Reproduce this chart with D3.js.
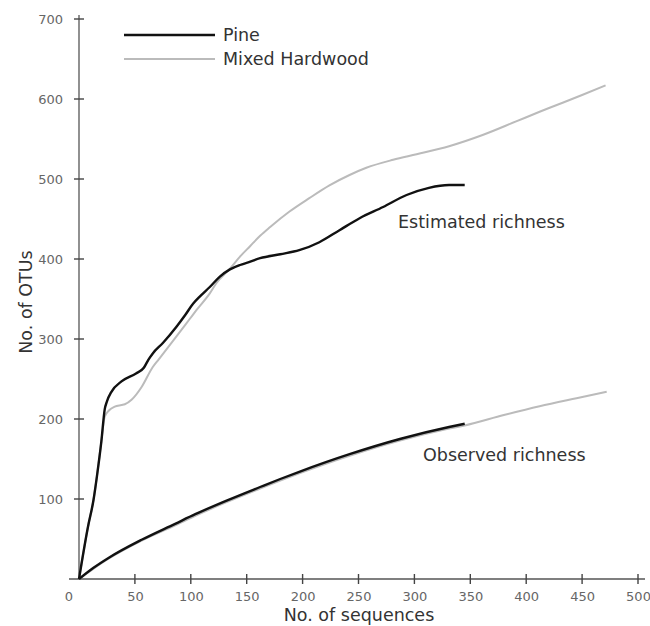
<!DOCTYPE html>
<html>
<head>
<meta charset="utf-8">
<script src="https://cdn.jsdelivr.net/npm/d3@7"></script>
<style>
  body { margin: 0; background: #fff; }
  svg { display: block; font-family: "DejaVu Sans", Verdana, sans-serif; }
  .axis text { fill: #666; font-size: 13px; }
  .label { fill: #333; font-size: 17.5px; }
</style>
</head>
<body>
<div id="chart"></div>
<script>
// rarefaction curves: [sequences, OTUs]
var pineEstimated = [
  [0, 0], [8, 65], [13, 99], [16, 128], [20, 172], [23, 212], [25, 222], [29, 234],
  [38, 247], [51, 257], [58, 264], [62, 274], [66, 282], [75, 295], [87, 315],
  [95, 330], [102, 344], [108, 353], [117, 365], [126, 378], [135, 387],
  [144, 392.5], [152, 396], [162, 401], [180, 406], [197, 411], [215, 421],
  [233, 436], [251, 451], [272, 465], [293, 480], [313, 489], [331, 492.5], [345, 492.5]
];
var mixedEstimated = [
  [0, 0], [8, 65], [13, 99], [16, 128], [20, 172], [23, 203], [27, 211], [32, 215.5],
  [38, 217.5], [41, 218.5], [47, 224], [56, 240], [66, 265], [71, 274], [87, 303],
  [99, 325], [105, 336], [117, 357], [123, 370], [135, 388], [144, 403], [153, 416],
  [162, 429], [171, 440], [188, 459], [206, 476], [224, 492], [242, 505], [257, 514],
  [281, 524], [302, 531], [331, 541], [361, 555], [391, 572], [412, 584],
  [421, 589], [450, 605], [471, 617]
];
var pineObserved = [
  [0, 0], [13, 14], [26, 26], [56, 49], [86, 69], [104, 81], [132, 98], [162, 115],
  [180, 125], [197, 134], [242, 156], [287, 175], [331, 190], [345, 194]
];
var mixedObserved = [
  [0, 0], [13, 13], [26, 25], [56, 48], [86, 67], [104, 79], [132, 96], [162, 113],
  [180, 123], [197, 132], [242, 154], [287, 173], [331, 188], [345, 192],
  [380, 205], [412, 216], [445, 226], [472, 234]
];
var xTicks = [0, 50, 100, 150, 200, 250, 300, 350, 400, 450, 500];
var yTicks = [100, 200, 300, 400, 500, 600, 700];
var seriesNames = ["Pine", "Mixed Hardwood"];
var seriesColors = ["#111", "#bbb"];

var width = 650, height = 626;

var svg = d3.select("#chart").append("svg")
  .attr("width", width)
  .attr("height", height);

var x = d3.scaleLinear().domain([0, 500]).range([79, 638]);
var y = d3.scaleLinear().domain([0, 700]).range([579, 19]);

// axis lines, a bit past the ranges like the original
svg.append("line")
  .attr("x1", x(0) - 10).attr("x2", x(500) + 7)
  .attr("y1", y(0)).attr("y2", y(0))
  .attr("stroke", "#555").attr("stroke-width", 1.3);
svg.append("line")
  .attr("x1", x(0)).attr("x2", x(0))
  .attr("y1", y(0)).attr("y2", y(700) - 4)
  .attr("stroke", "#555").attr("stroke-width", 1.3);

// labels from d3 axes, tick marks drawn across the axis below
var gx = svg.append("g")
  .attr("class", "axis")
  .attr("transform", "translate(0," + y(0) + ")")
  .call(d3.axisBottom(x).tickValues(xTicks).tickSize(5).tickPadding(8));
gx.select(".domain").remove();
gx.selectAll(".tick line").remove();
gx.selectAll(".tick")
  .filter(function(d) { return d === 0; })
  .select("text").attr("x", -10.5);

var gy = svg.append("g")
  .attr("class", "axis")
  .attr("transform", "translate(" + x(0) + ",0)")
  .call(d3.axisLeft(y).tickValues(yTicks).tickSize(5).tickPadding(11));
gy.select(".domain").remove();
gy.selectAll(".tick line").remove();

svg.selectAll(".axis").attr("font-family", null).attr("font-size", null);

svg.append("g").selectAll("line")
  .data(xTicks.filter(function(d) { return d > 0; }))
  .join("line")
    .attr("x1", function(d) { return x(d); })
    .attr("x2", function(d) { return x(d); })
    .attr("y1", y(0) - 5).attr("y2", y(0) + 5)
    .attr("stroke", "#444").attr("stroke-width", 1.4);
svg.append("g").selectAll("line")
  .data(yTicks)
  .join("line")
    .attr("x1", x(0) - 5).attr("x2", x(0) + 5)
    .attr("y1", function(d) { return y(d); })
    .attr("y2", function(d) { return y(d); })
    .attr("stroke", "#444").attr("stroke-width", 1.4);

var line = d3.line()
  .x(function(d) { return x(d[0]); })
  .y(function(d) { return y(d[1]); })
  .curve(d3.curveMonotoneX);

// grey first so black sits on top
[[mixedEstimated, 1], [mixedObserved, 1], [pineEstimated, 0], [pineObserved, 0]]
  .forEach(function(s) {
    svg.append("path")
      .datum(s[0])
      .attr("fill", "none")
      .attr("stroke", seriesColors[s[1]])
      .attr("stroke-width", s[1] === 0 ? 2.4 : 2)
      .attr("stroke-linejoin", "round")
      .attr("d", line);
  });

// legend
var legend = svg.append("g");
seriesNames.forEach(function(name, i) {
  legend.append("line")
    .attr("x1", 124).attr("x2", 215)
    .attr("y1", 35 + i * 24).attr("y2", 35 + i * 24)
    .attr("stroke", seriesColors[i])
    .attr("stroke-width", i === 0 ? 2.6 : 2.2);
  legend.append("text")
    .attr("class", "label")
    .attr("x", 223)
    .attr("y", 35 + i * 24)
    .attr("dy", "0.35em")
    .text(name);
});

svg.append("text").attr("class", "label")
  .attr("x", 398).attr("y", 228)
  .text("Estimated richness");
svg.append("text").attr("class", "label")
  .attr("x", 423).attr("y", 461)
  .text("Observed richness");

svg.append("text").attr("class", "label")
  .attr("x", 359).attr("y", 621)
  .attr("text-anchor", "middle")
  .text("No. of sequences");
svg.append("text").attr("class", "label")
  .attr("transform", "translate(32,302) rotate(-90)")
  .attr("text-anchor", "middle")
  .text("No. of OTUs");
</script>
</body>
</html>
